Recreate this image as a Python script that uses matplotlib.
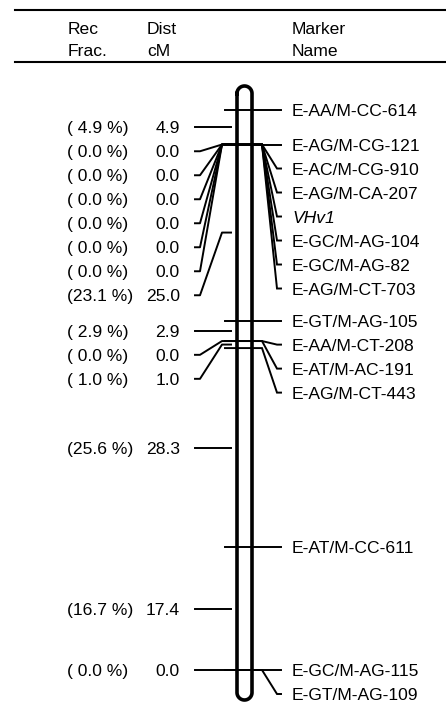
import numpy as np
import matplotlib
matplotlib.use("Agg")
import matplotlib.pyplot as plt
from matplotlib.lines import Line2D

# ---------------- data ----------------
marker_names = ["E-AA/M-CC-614", "E-AG/M-CG-121", "E-AC/M-CG-910", "E-AG/M-CA-207",
                "VHv1", "E-GC/M-AG-104", "E-GC/M-AG-82", "E-AG/M-CT-703",
                "E-GT/M-AG-105", "E-AA/M-CT-208", "E-AT/M-AC-191", "E-AG/M-CT-443",
                "E-AT/M-CC-611", "E-GC/M-AG-115", "E-GT/M-AG-109"]
italic_markers = ["VHv1"]
interval_cM = [4.9, 0.0, 0.0, 0.0, 0.0, 0.0, 0.0, 25.0, 2.9, 0.0, 1.0, 28.3, 17.4, 0.0]
rec_frac_pct = [4.9, 0.0, 0.0, 0.0, 0.0, 0.0, 0.0, 23.1, 2.9, 0.0, 1.0, 25.6, 16.7, 0.0]
header_top = ["Rec", "Dist", "Marker"]
header_bottom = ["Frac.", "cM", "Name"]

# ---------------- layout (pixels) ----------------
W, H = 446, 704
Y_FIRST, Y_LAST = 110, 670          # pixel rows of first / last locus
CHR_L, CHR_R = 237, 252             # chromosome outline x (stroke centres)
CHR_TOP, CHR_BOT = 86, 700
LOCUS_X0, FAN_X0, FAN_X1, RIGHT_END, RIGHT_TEXT = 225, 262, 277, 281, 292
LEFT_END, LEFT_A, LEFT_B, LEFT_CHR = 195, 200, 222, 231
PCT_X, CM_X = 67, 180
GAP_PX = 24
FS = 12.6
LW = 1.4

plt.rcParams['font.family'] = ['Liberation Sans', 'DejaVu Sans']

positions = np.concatenate([[0.0], np.cumsum(interval_cM)])
total = positions[-1]
scale = (Y_LAST - Y_FIRST) / total       # px per cM


def px2cm(py):
    return (py - Y_FIRST) / scale


fig = plt.figure(figsize=(W / 100, H / 100), dpi=100)
ax = fig.add_axes([0, 0, 1, 1])
ax.set_xlim(0, W)
ax.set_ylim(px2cm(H), px2cm(0))
ax.axis('off')

gap = GAP_PX / scale
txt_off = 1.5 / scale

# ---------------- header ----------------
for yy in (10, 62):
    ax.add_line(Line2D([15 / W, 1.0], [1 - yy / H, 1 - yy / H], transform=ax.transAxes,
                       color='black', lw=1.5))
for xx, t1, t2 in zip([68, 147, 292], header_top, header_bottom):
    ax.text(xx / W, 1 - 30 / H, t1, transform=ax.transAxes, ha='left', va='center', fontsize=FS)
    ax.text(xx / W, 1 - 51 / H, t2, transform=ax.transAxes, ha='left', va='center', fontsize=FS)

# ---------------- chromosome ----------------
r = (CHR_R - CHR_L) / 2
cx = (CHR_L + CHR_R) / 2
t = np.linspace(np.pi, 0, 60)
xs_top = cx + r * np.cos(t)
ys_top = (CHR_TOP + r) - r * np.sin(t)
t2 = np.linspace(0, -np.pi, 60)
xs_bot = cx + r * np.cos(t2)
ys_bot = (CHR_BOT - r) - r * np.sin(t2)
xs = np.concatenate([xs_top, xs_bot, [xs_top[0]]])
ys = np.concatenate([ys_top, ys_bot, [ys_top[0]]])
ax.plot(xs, px2cm(ys), color='black', lw=2.6, solid_joinstyle='round', zorder=3)

# ---------------- right side: loci ----------------
label_pos = []
for i, p in enumerate(positions):
    lp = p if i == 0 else max(p, label_pos[-1] + gap)
    label_pos.append(lp)

for name, p, lp in zip(marker_names, positions, label_pos):
    ax.plot([LOCUS_X0, FAN_X0, FAN_X1, RIGHT_END], [p, p, lp, lp],
            color='black', lw=LW, zorder=2, solid_joinstyle='miter')
    ax.text(RIGHT_TEXT, lp + txt_off, name, ha='left', va='center', fontsize=FS,
            style='italic' if name in italic_markers else 'normal')

# ---------------- left side: intervals ----------------
mids = (positions[:-1] + positions[1:]) / 2
left_pos = []
for i, m in enumerate(mids):
    lp = m if i == 0 else max(m, left_pos[-1] + gap)
    left_pos.append(lp)

for d, rf, m, lp in zip(interval_cM, rec_frac_pct, mids, left_pos):
    ax.plot([LEFT_END, LEFT_A, LEFT_B, LEFT_CHR], [lp, lp, m, m],
            color='black', lw=LW, zorder=2)
    ax.text(PCT_X, lp + txt_off, f"({rf:4.1f} %)", ha='left', va='center', fontsize=FS)
    ax.text(CM_X, lp + txt_off, f"{d:.1f}", ha='right', va='center', fontsize=FS)

fig.savefig("out.png", dpi=100)
